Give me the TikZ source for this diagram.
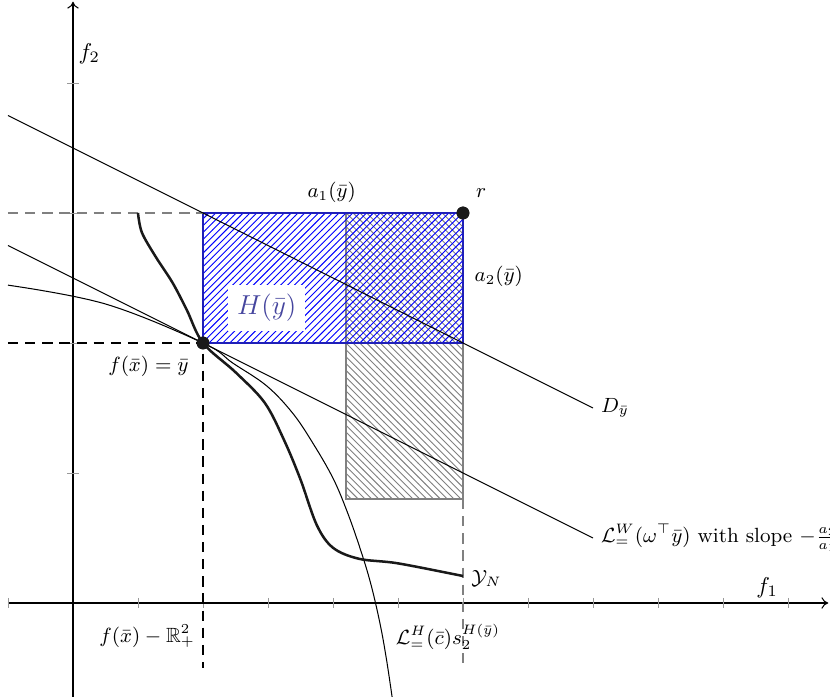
\documentclass[tikz,border=0pt]{standalone}
\usepackage{amsmath,amssymb}
\usetikzlibrary{patterns,arrows.meta}
\definecolor{hcol}{rgb}{0.27,0.27,0.62}
\definecolor{rectblue}{rgb}{0.12,0.12,0.72}
\begin{document}
\begin{tikzpicture}[x=1cm,y=1cm,
  tickmark/.style={gray!80,thin},
  dashline/.style={dash pattern=on 4.5pt off 3pt},
  lbl/.style={font=\small},
  dot/.style={circle,fill=black!90,inner sep=0pt,minimum size=5.6pt},
  thinline/.style={black,line width=0.45pt}]
\useasboundingbox (-1.123,-1.431) rectangle (11.646,9.277);
% rectangles
\draw[gray,line width=0.6pt,pattern=north west lines,pattern color=gray] (4.2,1.6) rectangle (6,6);
\draw[rectblue,line width=0.8pt,pattern=north east lines,pattern color=blue] (2,4) rectangle (6,6);
% axes
\draw[-{To[length=3pt,width=5pt]},line width=0.45pt] (-1,0) -- (11.62,0);
\draw[-{To[length=3pt,width=5pt]},line width=0.45pt] (0,-1.5) -- (0,9.25);
\foreach \x in {-1,1,2,...,11} \draw[tickmark] (\x,0.08) -- (\x,-0.08);
\foreach \y in {2,4,6,8} \draw[tickmark] (-0.09,\y) -- (0.09,\y);
\node (f2) at (0.25,8.45) {$f_2$};
\node (f1) at (10.68,0.24) {$f_1$};
% named points
\node[dot] (ybar) at (2,4) {};
\node[dot] (r) at (6,6) {};
\coordinate (tl) at (2,6);
\coordinate (dl) at (-1,7.5);
\coordinate (de) at (8,3);
\coordinate (wl) at (-1,5.5);
\coordinate (we) at (8,1);
% dashed guide lines
\draw[gray,dashline,line width=0.7pt] (-1,6) -- (tl);
\draw[black,dashline,line width=0.8pt] (-1,4) -- (ybar.center) -- (2,-1);
\draw[gray,dashline,line width=0.6pt] (6,1.6) -- (6,-1);
% lines
\draw[thinline] (dl) -- (de) node[right,lbl] (dlab) {$D_{\bar y}$};
\draw[thinline] (wl) -- (we) node[right,lbl] (wlab) {$\mathcal{L}^{W}_{=}(\omega^{\top}\bar y)$ with slope $-\frac{a_2}{a_1}$};
% level curve L^H
\draw[thinline] plot[smooth,tension=0.6] coordinates {(-1,4.89) (0.5,4.6) (2,4) (2.46,3.69) (2.98,3.34) (3.38,2.92) (3.69,2.46) (4,1.92) (4.22,1.40) (4.42,0.83) (4.58,0.3) (4.72,-0.3) (4.82,-0.85) (4.91,-1.45)};
% nondominated curve Y_N
\draw[black!90,line width=1.1pt] plot[smooth,tension=0.55] coordinates {(1,6) (1.06,5.7) (1.27,5.33) (1.53,4.93) (1.75,4.51) (2,4) (2.5,3.55) (2.95,3.08) (3.25,2.5) (3.5,1.9) (3.75,1.2) (4,0.85) (4.4,0.68) (5,0.61) (6,0.415)};
\node[dot] at (ybar) {};
\node[dot] at (r) {};
% labels
\node[lbl] (ylab) at (1.16,3.64) {$f(\bar x)=\bar y$};
\node[lbl] (a1) at (3.98,6.31) {$a_1(\bar y)$};
\node[lbl] (rlab) at (6.28,6.31) {$r$};
\node[lbl] (a2) at (6.55,5.02) {$a_2(\bar y)$};
\node[lbl] (yn) at (6.36,0.38) {$\mathcal{Y}_N$};
\node[lbl] (cone) at (1.14,-0.51) {$f(\bar x)-\mathbb{R}^2_{+}$};
\node[lbl] (lh) at (5.77,-0.52) {$\mathcal{L}^{H}_{=}(\bar c)s_2^{H(\bar y)}$};
\node[fill=white,text=hcol,font=\large,inner sep=4pt,minimum width=1.1cm,minimum height=0.64cm] (hlab) at (2.98,4.54) {$H(\bar y)$};
\end{tikzpicture}
\end{document}
